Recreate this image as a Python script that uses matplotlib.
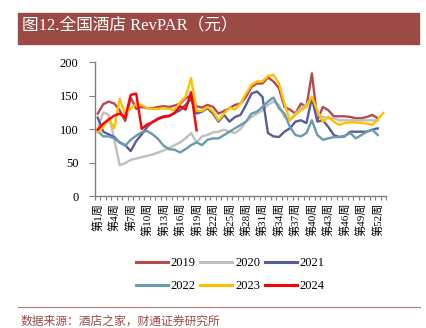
# RevPAR by week for national hotels, 2019-2024

import matplotlib.pyplot as plt
from matplotlib.patches import Rectangle
from matplotlib.lines import Line2D
import numpy as np

# Weekly RevPAR (yuan)
rev_2019 = [123, 137, 141, 138, 128, 112, 147, 130, 133, 131, 131, 133, 134, 133, 135, 138, 146, 150, 134,
            132, 136, 133, 123, 127, 131, 136, 138, 148, 163, 168, 168, 177, 171, 161, 133, 129, 123, 138, 133,
            183, 113, 133, 128, 119, 119, 119, 118, 116, 116, 118, 121, 116]
rev_2020 = [100, 125, 121, 85, 46, 49, 54, 56, 58, 60, 62, 65, 68, 72, 76, 80, 86, 94, 80,
            89, 91, 95, 96, 99, 96, 94, 100, 111, 118, 123, 128, 136, 141, 136, 118, 113, 123, 131, 136,
            148, 121, 118, 116, 116, 113, 113, 113, 113, 113, 113, 113, 113]
rev_2021 = [117, 96, 92, 88, 80, 76, 67, 82, 92, 103, 111, 116, 119, 120, 124, 128, 136, 145, 123,
            126, 131, 123, 111, 121, 111, 118, 121, 136, 153, 156, 148, 94, 89, 88, 96, 101, 111, 113, 109,
            146, 111, 113, 103, 91, 88, 89, 96, 96, 96, 96, 99, 101]
rev_2022 = [97, 89, 89, 86, 80, 75, 84, 90, 95, 97, 92, 85, 75, 70, 69, 65, 70, 76, 80,
            76, 84, 86, 86, 91, 96, 101, 106, 111, 123, 126, 133, 141, 147, 131, 123, 103, 91, 89, 94,
            113, 91, 84, 86, 88, 88, 90, 94, 86, 91, 96, 99, 91]
rev_2023 = [95, 103, 116, 101, 145, 122, 131, 137, 136, 131, 130, 130, 131, 130, 128, 140, 148, 176, 127,
            127, 133, 126, 113, 123, 132, 129, 138, 153, 166, 171, 171, 179, 181, 168, 138, 113, 121, 128, 133,
            148, 128, 111, 118, 111, 106, 109, 110, 110, 109, 108, 106, 114, 124]
rev_2024 = [99, 108, 114, 120, 123, 117, 151, 153, 100, 107, 110, 115, 118, 119, 124, 134, 129, 155, 98]

years = ['2019', '2020', '2021', '2022', '2023', '2024']
colors = ['#B5494D', '#BFBFBF', '#585D98', '#6A9AAF', '#FFC000', '#FF0000']

tick_weeks = [1, 4, 7, 10, 13, 16, 19, 22, 25, 28, 31, 34, 37, 40, 43, 46, 49, 52]
tick_labels = ['第1周', '第4周', '第7周', '第10周', '第13周', '第16周', '第19周', '第22周', '第25周',
               '第28周', '第31周', '第34周', '第37周', '第40周', '第43周', '第46周', '第49周', '第52周']

plt.rcParams['font.family'] = ['Liberation Serif', 'Noto Sans CJK SC']

fig = plt.figure(figsize=(4.27, 3.28), dpi=100)
ax = fig.add_axes([0.2225, 0.4024, 0.6815, 0.4085])

data = [rev_2019, rev_2020, rev_2021, rev_2022, rev_2023, rev_2024]
for vals, year, color in zip(data, years, colors):
    ax.plot(np.arange(1, len(vals) + 1), vals, color=color, lw=1.7, label=year,
            solid_joinstyle='round')

ax.set_xlim(0.5, 53.5)
ax.set_ylim(0, 200)
ax.set_yticks([0, 50, 100, 150, 200])
ax.set_xticks(tick_weeks)
ax.set_xticklabels(tick_labels, rotation=90, fontsize=8, va='top')
ax.set_xticks(np.arange(0.5, 54, 1), minor=True)
ax.tick_params(axis='x', which='major', length=0, pad=5)
ax.tick_params(axis='x', which='minor', length=3, color='#808080', width=0.8)
ax.tick_params(axis='y', length=4, color='#808080', width=0.8, pad=8, labelsize=9)
for s in ['top', 'right']:
    ax.spines[s].set_visible(False)
for s in ['left', 'bottom']:
    ax.spines[s].set_color('#808080')
    ax.spines[s].set_linewidth(1.0)

# legend laid out row by row: 2019 2020 2021 / 2022 2023 2024
handles = [Line2D([], [], color=c, lw=2.2) for c in colors]
order = [0, 3, 1, 4, 2, 5]
fig.legend([handles[i] for i in order], [years[i] for i in order], ncol=3, loc='center',
           bbox_to_anchor=(0.539, 0.162), frameon=False, fontsize=9, handlelength=2.56,
           handletextpad=0.25, columnspacing=0.35, labelspacing=0.9)

# title banner
fig.patches.append(Rectangle((0.042, 0.866), 0.939, 0.094, transform=fig.transFigure,
                             color='#9C4A46', zorder=0))
fig.text(0.052, 0.924, '图12.全国酒店 RevPAR（元）', color='white', fontsize=12, va='center')

# source line
fig.add_artist(Line2D([0.042, 0.983], [0.064, 0.064], transform=fig.transFigure,
                      color='#B07C78', lw=0.8))
fig.text(0.047, 0.02, '数据来源：酒店之家，财通证券研究所', color='#9C4A46', fontsize=8.5,
         va='center', family=['Noto Sans CJK SC'])

plt.savefig('out.png', dpi=100)
